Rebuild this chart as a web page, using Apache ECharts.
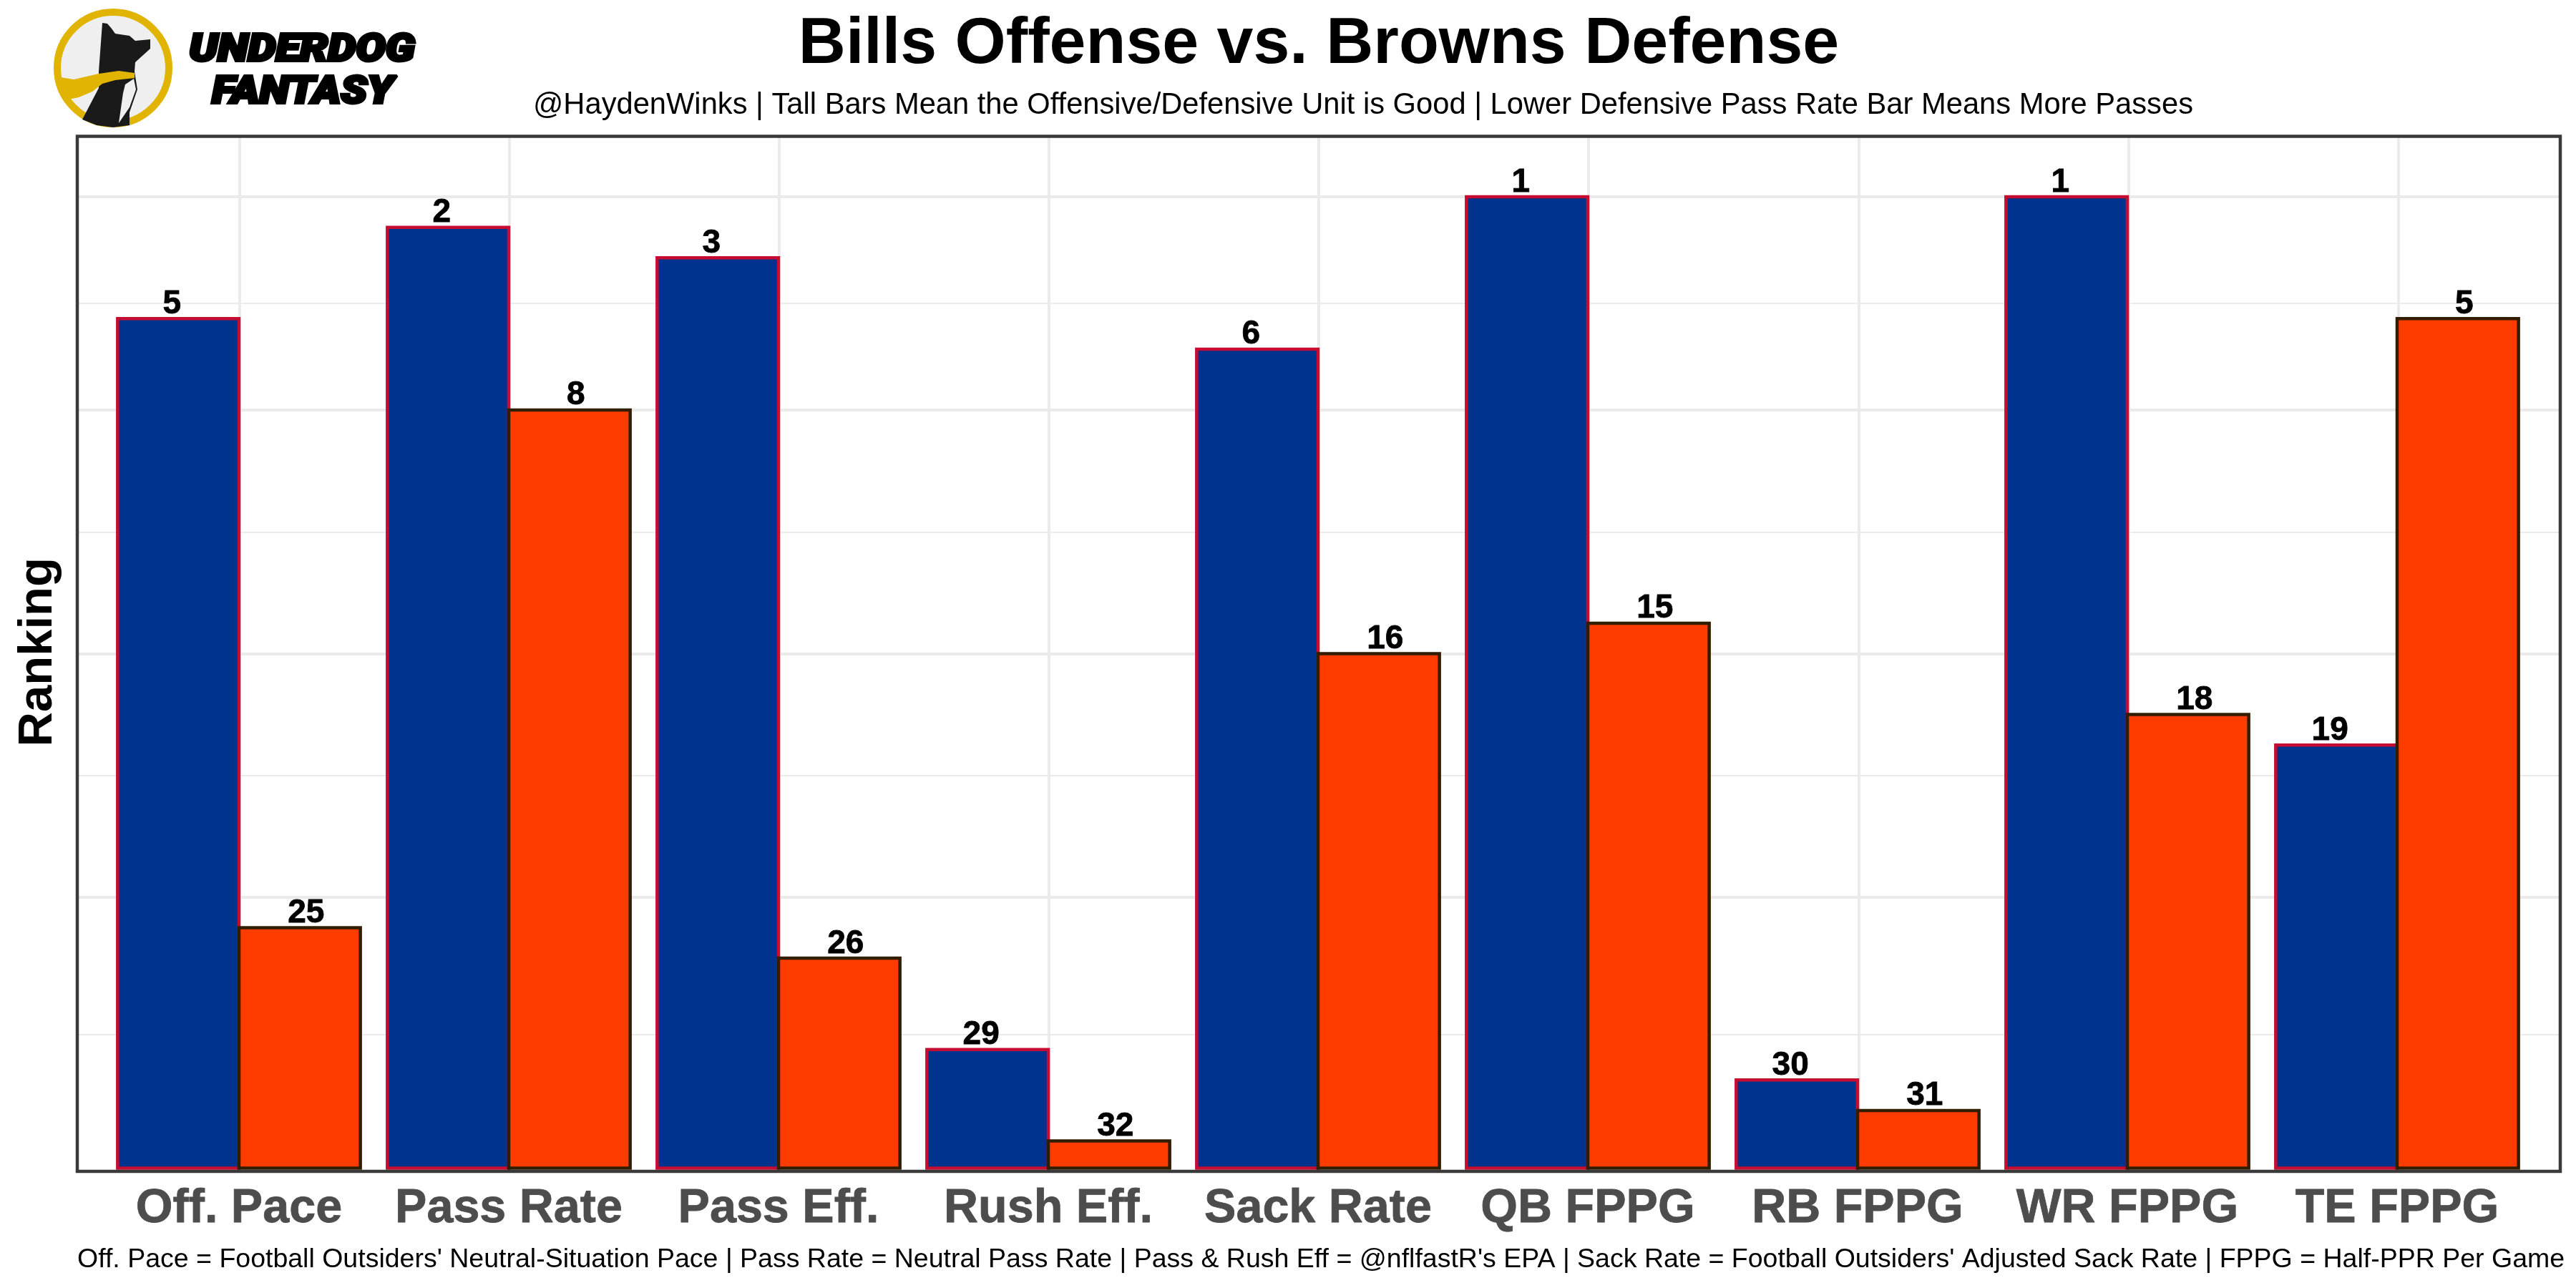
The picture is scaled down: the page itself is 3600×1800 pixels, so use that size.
<!DOCTYPE html>
<html><head><meta charset="utf-8">
<style>html,body{margin:0;padding:0;background:#fff}#c{width:3600px;height:1800px}</style>
<script src="https://cdn.jsdelivr.net/npm/echarts@6/dist/echarts.min.js"></script>
</head><body><div id="c"></div>
<script>
const categories = ['Off. Pace','Pass Rate','Pass Eff.','Rush Eff.','Sack Rate','QB FPPG','RB FPPG','WR FPPG','TE FPPG'];
const offenseRanks = [5,2,3,29,6,1,30,1,19];
const defenseRanks = [25,8,26,32,16,15,31,18,5];
const rankCeiling = 33;
const majorBreaks = [9,17,25,32];
const minorBreaks = [4.5,13,21,28.5];
const titleText = 'Bills Offense vs. Browns Defense';
const subtitleText = '@HaydenWinks | Tall Bars Mean the Offensive/Defensive Unit is Good | Lower Defensive Pass Rate Bar Means More Passes';
const footerText = "Off. Pace = Football Outsiders' Neutral-Situation Pace | Pass Rate = Neutral Pass Rate | Pass & Rush Eff = @nflfastR's EPA | Sack Rate = Football Outsiders' Adjusted Sack Rate | FPPG = Half-PPR Per Game";

const FONT = '"Liberation Sans", Arial, sans-serif';
const toHeight = r => rankCeiling - r;
const chart = echarts.init(document.getElementById('c'), null, {renderer:'canvas'});

const barSeries = (name, ranks, fill, edge, dx) => ({
  name, type:'bar', xAxisIndex:1, yAxisIndex:1, z:3,
  data: ranks.map(toHeight), barWidth:174.15, barGap:'-2.58%',
  itemStyle:{color:fill, borderColor:edge, borderWidth:4.5},
  label:{show:true, position:'top', distance:-5, offset:[dx,0], color:'#000',
    fontFamily:FONT, fontWeight:'bold', fontSize:46, textBorderColor:'#000', textBorderWidth:0.8,
    formatter:p => String(ranks[p.dataIndex])}
});

chart.setOption({
  animation:false,
  backgroundColor:'#fff',
  title:[
    {text:titleText,left:1838,top:12,textAlign:'center',
     textStyle:{fontFamily:FONT,fontWeight:'bold',fontSize:91.5,color:'#000'}},
    {text:subtitleText,left:1900,top:122,textAlign:'center',
     textStyle:{fontFamily:FONT,fontWeight:'normal',fontSize:41.7,color:'#000'}},
    {text:footerText,left:103,top:1737,
     textStyle:{fontFamily:FONT,fontWeight:'normal',fontSize:37.5,color:'#000'}}
  ],
  grid:[
    {left:108,right:22,top:190,bottom:163,outerBoundsMode:'none'},
    {left:145.5,right:61.5,top:187.75,bottom:165.25,outerBoundsMode:'none'}
  ],
  xAxis:[
    {type:'value',gridIndex:0,min:-0.6,max:8.6,show:false},
    {type:'category',gridIndex:1,data:categories,
     axisLine:{show:false},axisTick:{show:false},splitLine:{show:false},
     axisLabel:{interval:0,margin:21,color:'#4d4d4d',fontFamily:FONT,fontWeight:'bold',fontSize:66.5,
       textBorderColor:'#4d4d4d',textBorderWidth:0.8}}
  ],
  yAxis:[
    {type:'value',gridIndex:0,min:0,max:34,show:false},
    {type:'value',gridIndex:1,min:0,max:34,
     axisLine:{show:false},axisTick:{show:false},axisLabel:{show:false},splitLine:{show:false},
     name:'Ranking',nameLocation:'middle',nameGap:58,
     nameTextStyle:{fontFamily:FONT,fontWeight:'bold',fontSize:67,color:'#000'}}
  ],
  series:[
    {type:'line',xAxisIndex:0,yAxisIndex:0,data:[],silent:true,
     markLine:{z:1,silent:true,symbol:'none',animation:false,label:{show:false},
       lineStyle:{type:'solid',color:'#ebebeb'},
       data:[
         ...majorBreaks.map(v=>({yAxis:v,lineStyle:{width:4,type:'solid',color:'#ebebeb'}})),
         ...minorBreaks.map(v=>({yAxis:v,lineStyle:{width:2,type:'solid',color:'#ebebeb'}})),
         ...categories.map((c,i)=>({xAxis:i,lineStyle:{width:4,type:'solid',color:'#ebebeb'}}))
       ]}},
    barSeries('Bills Offense',offenseRanks,'#00338D','#C60C30',-9),
    barSeries('Browns Defense',defenseRanks,'#FF3C00','#311D00',9)
  ],
  graphic:[
    {type:'rect',z:50,shape:{x:108,y:190.5,width:3470,height:1446.5},
     style:{fill:'none',stroke:'#3a3a3a',lineWidth:4.5}},
    {type:'ellipse',z:60,shape:{cx:158,cy:95,rx:78,ry:78},
     style:{fill:'#efefef',stroke:'#e0b400',lineWidth:10}},
    {type:'polygon',z:62,shape:{points:[[143,32],[150,33],[156,40],[161,47],[181,50],[189,57],[210,55],[210,68],[189,87],[188,100],[192,125],[181,157],[181,175],[158,178],[135,175],[115,167],[138,123],[138,100]]},
     style:{fill:'#1a1a1a'}},
    {type:'polygon',z:63,shape:{points:[[85,108],[103,111],[138,103],[166,99],[188,102],[188,109],[161,112],[143,117],[129,128],[110,136],[95,139],[85,125]]},
     style:{fill:'#e0b400'}},
    {type:'polygon',z:64,shape:{points:[[175,118],[187,110],[190,125],[181,150],[166,172],[172,130]]},
     style:{fill:'#efefef'}},
    {type:'text',z:65,x:422,y:72,scaleX:1.17,style:{x:0,y:0,text:'UNDERDOG',align:'center',verticalAlign:'middle',
      font:'italic 900 53px Roboto, "Liberation Sans"',fill:'#000',stroke:'#000',lineWidth:4}},
    {type:'text',z:65,x:423,y:131,scaleX:1.14,style:{x:0,y:0,text:'FANTASY',align:'center',verticalAlign:'middle',
      font:'italic 900 53px Roboto, "Liberation Sans"',fill:'#000',stroke:'#000',lineWidth:4}}
  ]
});
</script></body></html>
